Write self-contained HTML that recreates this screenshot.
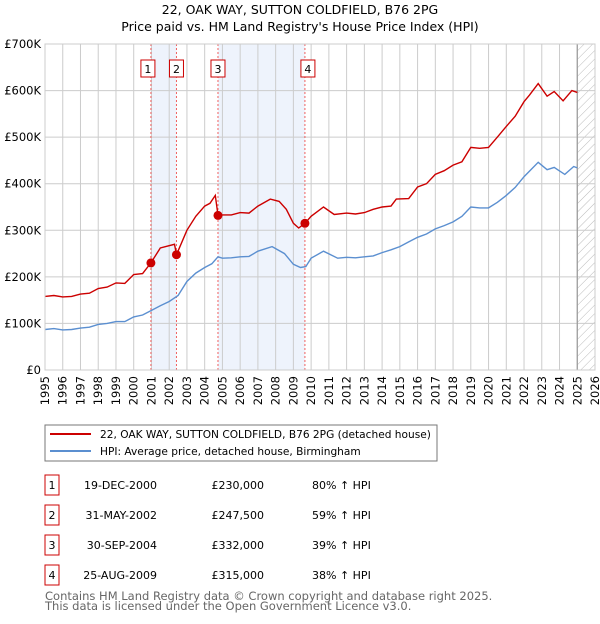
<!DOCTYPE html>
<html><head><meta charset="utf-8"><style>
body{margin:0;background:#fff;font-family:"DejaVu Sans","Liberation Sans",sans-serif}
svg text{font-family:"DejaVu Sans","Liberation Sans",sans-serif}
</style></head><body>
<svg id="c" width="600" height="620" viewBox="0 0 600 620" xmlns="http://www.w3.org/2000/svg">
<defs><pattern id="hatch" width="6" height="6" patternUnits="userSpaceOnUse" patternTransform="rotate(45)"><line x1="0" y1="0" x2="0" y2="6" stroke="#bbb" stroke-width="1"/></pattern></defs>
<text x="300" y="14" text-anchor="middle" font-size="12.5" fill="#000">22, OAK WAY, SUTTON COLDFIELD, B76 2PG</text>
<text x="300" y="31" text-anchor="middle" font-size="12.5" fill="#000">Price paid vs. HM Land Registry's House Price Index (HPI)</text>
<g id="plot"></g>
<rect x="45" y="425" width="392" height="36" fill="#fff" stroke="#777"/>
<line x1="50" y1="434" x2="91" y2="434" stroke="#cc0000" stroke-width="2"/>
<text x="100" y="438" font-size="10.6">22, OAK WAY, SUTTON COLDFIELD, B76 2PG (detached house)</text>
<line x1="50" y1="451" x2="91" y2="451" stroke="#5b8fd0" stroke-width="2"/>
<text x="100" y="455" font-size="10.6">HPI: Average price, detached house, Birmingham</text>
<g id="table" font-size="11"></g>
<text x="45" y="600" font-size="11.5" fill="#666">Contains HM Land Registry data © Crown copyright and database right 2025.</text>
<text x="45" y="610" font-size="11.5" fill="#666">This data is licensed under the Open Government Licence v3.0.</text>
</svg>
<script>
const yTicks=[0,100000,200000,300000,400000,500000,600000,700000];
const yTickLabels=["£0","£100K","£200K","£300K","£400K","£500K","£600K","£700K"];
const xYears=[1995,1996,1997,1998,1999,2000,2001,2002,2003,2004,2005,2006,2007,2008,2009,2010,2011,2012,2013,2014,2015,2016,2017,2018,2019,2020,2021,2022,2023,2024,2025,2026];
const saleDates=[2000.97,2002.41,2004.75,2009.65];
const salePrices=[230000,247500,332000,315000];
const saleLabels=["1","2","3","4"];
const saleDateText=["19-DEC-2000","31-MAY-2002","30-SEP-2004","25-AUG-2009"];
const salePriceText=["£230,000","£247,500","£332,000","£315,000"];
const salePctText=["80% ↑ HPI","59% ↑ HPI","39% ↑ HPI","38% ↑ HPI"];
const redT=[1995,1995.5,1996,1996.5,1997,1997.5,1998,1998.5,1999,1999.5,2000,2000.5,2000.97,2001.5,2002.3,2002.41,2003,2003.5,2004,2004.3,2004.6,2004.75,2005,2005.5,2006,2006.5,2007,2007.7,2008.2,2008.6,2009,2009.3,2009.65,2010,2010.7,2011.3,2012,2012.5,2013,2013.5,2014,2014.5,2014.8,2015.5,2016,2016.5,2017,2017.5,2018,2018.5,2019,2019.5,2020,2020.5,2021,2021.5,2022,2022.3,2022.8,2023.3,2023.7,2024.2,2024.7,2025];
const redV=[158000,160000,157000,158000,163000,165000,175000,178000,187000,186000,205000,207000,230000,262000,270000,247500,300000,330000,352000,358000,375000,332000,333000,333000,338000,337000,352000,367000,362000,345000,315000,305000,315000,330000,350000,334000,337000,335000,338000,345000,350000,352000,367000,368000,393000,400000,420000,428000,440000,447000,478000,476000,478000,500000,523000,545000,576000,590000,615000,588000,598000,578000,600000,596000];
const blueT=[1995,1995.5,1996,1996.5,1997,1997.5,1998,1998.5,1999,1999.5,2000,2000.5,2001,2001.5,2002,2002.5,2003,2003.5,2004,2004.4,2004.75,2005,2005.5,2006,2006.5,2007,2007.8,2008.5,2009,2009.4,2009.7,2010,2010.7,2011.5,2012,2012.5,2013,2013.5,2014,2014.5,2015,2015.5,2016,2016.5,2017,2017.5,2018,2018.5,2019,2019.5,2020,2020.5,2021,2021.5,2022,2022.8,2023.3,2023.7,2024.3,2024.8,2025];
const blueV=[87000,89000,86000,87000,90000,92000,98000,100000,104000,104000,114000,118000,128000,138000,147000,160000,190000,208000,220000,228000,243000,240000,241000,243000,244000,255000,265000,250000,227000,220000,222000,240000,255000,240000,242000,241000,243000,245000,252000,258000,265000,275000,285000,292000,303000,310000,318000,330000,350000,348000,348000,360000,375000,392000,415000,446000,430000,435000,420000,437000,434000];
const X0=45,X1=595,Y0=370,Y1=44;
const xs=t=>X0+(t-1995)/(2026-1995)*(X1-X0);
const ys=v=>Y0-v/700000*(Y0-Y1);
const NS="http://www.w3.org/2000/svg";
const plot=document.getElementById('plot');
function mk(tag,attrs,parent){const e=document.createElementNS(NS,tag);for(const k in attrs)e.setAttribute(k,attrs[k]);(parent||plot).appendChild(e);return e;}
let e;
e=mk('rect',{x:X0,y:Y1,width:X1-X0,height:Y0-Y1,fill:'#fff',stroke:'none'});


e=mk('rect',{x:xs(saleDates[0]),y:Y1,width:xs(saleDates[1])-xs(saleDates[0]),height:Y0-Y1,fill:'#eef3fc'});


e=mk('rect',{x:xs(saleDates[2]),y:Y1,width:xs(saleDates[3])-xs(saleDates[2]),height:Y0-Y1,fill:'#eef3fc'});


e=mk('rect',{x:xs(2025),y:Y1,width:X1-xs(2025),height:Y0-Y1,fill:'url(#hatch)'});


xYears.forEach((y,i)=>{
  e=mk('line',{x1:xs(y),x2:xs(y),y1:Y1,y2:Y0,stroke:'#ccc','stroke-width':1});
  
  
  e=mk('text',{x:0,y:0,'font-size':11.5,'text-anchor':'end',transform:`translate(${xs(y)+4},${Y0+6}) rotate(-90)`});
  e.textContent=y;
  
  
});
yTicks.forEach((v,i)=>{
  e=mk('line',{x1:X0,x2:X1,y1:ys(v),y2:ys(v),stroke:'#ccc','stroke-width':1});
  
  
  e=mk('text',{x:X0-4,y:ys(v)+4,'font-size':11.5,'text-anchor':'end'});
  e.textContent=yTickLabels[i];
  
  
});
e=mk('line',{x1:xs(2025),x2:xs(2025),y1:Y1,y2:Y0,stroke:'#999','stroke-width':1.2});


saleDates.forEach((d,i)=>{
  e=mk('line',{x1:xs(d),x2:xs(d),y1:Y1,y2:Y0,stroke:'#f06060','stroke-width':1,'stroke-dasharray':'2,2'});
  
  
});
function path(T,V){return T.map((t,i)=>(i?'L':'M')+xs(t).toFixed(1)+','+ys(V[i]).toFixed(1)).join('');}
e=mk('path',{d:path(blueT,blueV),fill:'none',stroke:'#5b8fd0','stroke-width':1.4});


e=mk('path',{d:path(redT,redV),fill:'none',stroke:'#cc0000','stroke-width':1.4});


saleDates.forEach((d,i)=>{
  e=mk('circle',{cx:xs(d),cy:ys(salePrices[i]),r:4.5,fill:'#cc0000'});
  
  
  const bx=xs(d)-(i===3?-3:(i===0?3:0))-7;
  e=mk('rect',{x:bx,y:60,width:14,height:17,fill:'#fff',stroke:'#cc0000','stroke-width':1});
  
  
  e=mk('text',{x:bx+7,y:73,'font-size':11,'text-anchor':'middle'});
  e.textContent=saleLabels[i];
  
  
});
e=mk('rect',{x:X0,y:Y1,width:X1-X0,height:Y0-Y1,fill:'none',stroke:'#ccc'});


const tb=document.getElementById('table');
saleLabels.forEach((l,i)=>{
  const ty=[475,505,535,565][i];
  e=mk('rect',{x:45,y:ty,width:14,height:20,fill:'#fff',stroke:'#cc0000'},tb);
  
  
  e=mk('text',{x:52,y:ty+14,'text-anchor':'middle'},tb);e.textContent=l;
  
  
  e=mk('text',{x:157,y:ty+14,'text-anchor':'end'},tb);e.textContent=saleDateText[i];
  
  
  e=mk('text',{x:264,y:ty+14,'text-anchor':'end'},tb);e.textContent=salePriceText[i];
  
  
  e=mk('text',{x:312,y:ty+14},tb);e.textContent=salePctText[i];
  
  
});
</script>
</body></html>
